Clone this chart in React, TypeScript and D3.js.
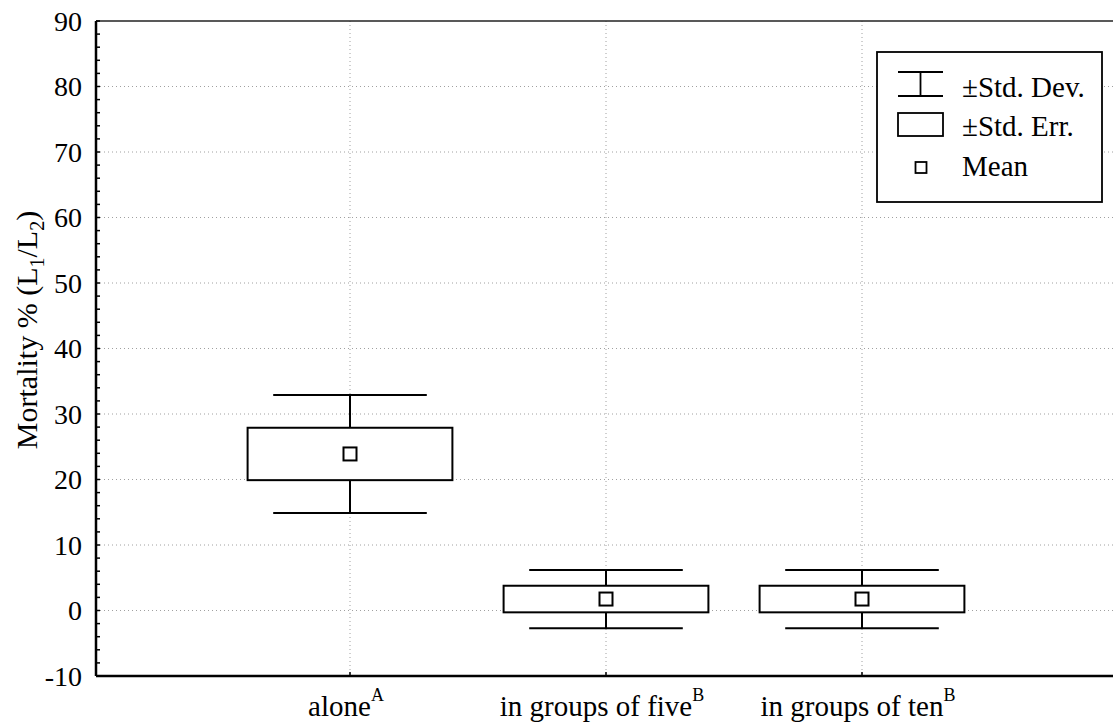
import React from "react";
import * as d3 from "d3";

const categories = ["alone", "in groups of five", "in groups of ten"];
const superscripts = ["A", "B", "B"];
const means = [23.9, 1.75, 1.75];
const stdErr = [4.0, 2.03, 2.03];
const stdDev = [9.0, 4.45, 4.45];
const yTicks = [-10, 0, 10, 20, 30, 40, 50, 60, 70, 80, 90];
const legendLabels = ["±Std. Dev.", "±Std. Err.", "Mean"];

const W = 1113;
const H = 728;
const left = 96;
const top = 21;
const bottom = 676;
const right = 1118;
const FONT = "Liberation Serif, DejaVu Serif, Times New Roman, serif";

export default function App() {
  const y = d3.scaleLinear().domain([-10, 90]).range([bottom, top]);
  const x = d3.scalePoint<string>().domain(categories).range([94, 1118]).padding(1);
  const step = x.step();
  const boxW = step * 0.8;
  const capW = step * 0.6;
  const minorTicks = d3.range(-10, 90.001, 2);
  const ts = { fontFamily: FONT };
  const legendBaselines = [97, 136, 176];

  return (
    <svg width={W} height={H} style={{ position: "absolute", left: 0, top: 0, background: "#fff" }}>
      <rect x={0} y={0} width={W} height={H} fill="#fff" />
      {yTicks.filter((t) => t > -10 && t < 90).map((t) => (
        <line key={"gy" + t} x1={left} x2={right} y1={y(t)} y2={y(t)} stroke="#a0a0a0" strokeWidth={1} strokeDasharray="1,3" />
      ))}
      {categories.map((c) => (
        <line key={"gx" + c} x1={x(c)} x2={x(c)} y1={top} y2={bottom} stroke="#a0a0a0" strokeWidth={1} strokeDasharray="1,3" />
      ))}
      <line x1={left} x2={right} y1={top} y2={top} stroke="#222" strokeWidth={1.6} />
      <line x1={left} x2={right} y1={bottom} y2={bottom} stroke="#000" strokeWidth={2.5} />
      <line x1={left} x2={left} y1={top} y2={bottom} stroke="#000" strokeWidth={2.5} />
      {minorTicks.map((t) => (
        <line key={"mt" + t} x1={left} x2={left + 4} y1={y(t)} y2={y(t)} stroke="#000" strokeWidth={1.5} />
      ))}
      {categories.map((c) => (
        <line key={"xt" + c} x1={x(c)} x2={x(c)} y1={bottom} y2={bottom - 4} stroke="#000" strokeWidth={1.5} />
      ))}
      {yTicks.map((t) => (
        <text key={"yl" + t} x={left - 14} y={y(t)} dy="0.35em" textAnchor="end" style={ts} fontSize={28} fill="#000">
          {t}
        </text>
      ))}
      <text transform={`translate(37,330) rotate(-90)`} textAnchor="middle" style={ts} fontSize={30} fill="#000">
        Mortality % (L
        <tspan dy={7} fontSize={20}>1</tspan>
        <tspan dy={-7}>/L</tspan>
        <tspan dy={7} fontSize={20}>2</tspan>
        <tspan dy={-7}>)</tspan>
      </text>
      {categories.map((c, i) => (
        <text key={"xl" + c} x={(x(c) as number) - 4} y={716} textAnchor="middle" style={ts} fontSize={29} fill="#000">
          {c}
          <tspan dy={-15} fontSize={18}>{superscripts[i]}</tspan>
        </text>
      ))}
      {categories.map((c, i) => {
        const cx = x(c) as number;
        const m = means[i];
        return (
          <g key={"b" + c} stroke="#000" strokeWidth={2} fill="none">
            <line x1={cx - capW / 2} x2={cx + capW / 2} y1={y(m + stdDev[i])} y2={y(m + stdDev[i])} />
            <line x1={cx - capW / 2} x2={cx + capW / 2} y1={y(m - stdDev[i])} y2={y(m - stdDev[i])} />
            <line x1={cx} x2={cx} y1={y(m + stdDev[i])} y2={y(m + stdErr[i])} />
            <line x1={cx} x2={cx} y1={y(m - stdErr[i])} y2={y(m - stdDev[i])} />
            <rect x={cx - boxW / 2} y={y(m + stdErr[i])} width={boxW} height={y(m - stdErr[i]) - y(m + stdErr[i])} fill="#fff" />
            <rect x={cx - 6.5} y={y(m) - 6.5} width={13} height={13} fill="#fff" />
          </g>
        );
      })}
      <g>
        <rect x={877} y={52} width={225} height={150} fill="#fff" stroke="#000" strokeWidth={1.8} />
        <g stroke="#000" strokeWidth={1.8} fill="none">
          <line x1={898} x2={943} y1={72} y2={72} />
          <line x1={898} x2={943} y1={96} y2={96} />
          <line x1={920.5} x2={920.5} y1={72} y2={96} />
          <rect x={898} y={113} width={45} height={23} />
          <rect x={915.5} y={162} width={11} height={11} />
        </g>
        {legendLabels.map((l, i) => (
          <text key={l} x={962} y={legendBaselines[i]} style={ts} fontSize={29} fill="#000">{l}</text>
        ))}
      </g>
    </svg>
  );
}
